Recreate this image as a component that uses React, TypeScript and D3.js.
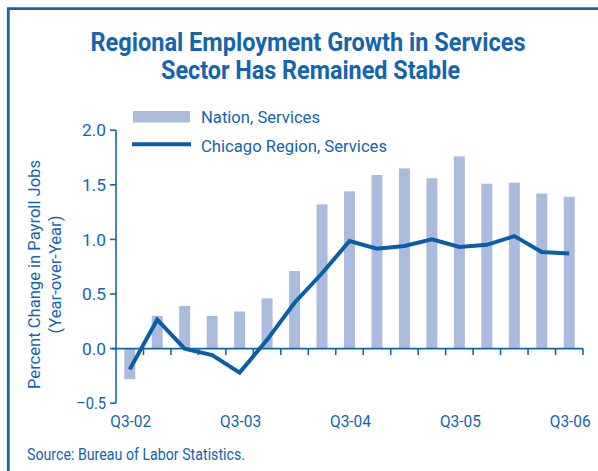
import React, { useEffect, useRef } from "react";
import * as d3 from "d3";

const quarters = [
  "Q3-02", "Q4-02", "Q1-03", "Q2-03", "Q3-03", "Q4-03", "Q1-04", "Q2-04",
  "Q3-04", "Q4-04", "Q1-05", "Q2-05", "Q3-05", "Q4-05", "Q1-06", "Q2-06", "Q3-06",
];
const nationServices = [
  -0.28, 0.30, 0.39, 0.30, 0.34, 0.46, 0.71, 1.32, 1.44, 1.59, 1.65, 1.56, 1.76, 1.51, 1.52, 1.42, 1.39,
];
const chicagoServices = [
  -0.19, 0.265, 0.0, -0.06, -0.22, 0.08, 0.42, 0.69, 0.985, 0.915, 0.94, 1.0, 0.93, 0.95, 1.03, 0.885, 0.87,
];
const xTickLabels = ["Q3-02", "Q3-03", "Q3-04", "Q3-05", "Q3-06"];
const yTicks = [-0.5, 0, 0.5, 1.0, 1.5, 2.0];
const titleLines = ["Regional Employment Growth in Services", "Sector Has Remained Stable"];
const yTitleLines = ["Percent Change in Payroll Jobs", "(Year-over-Year)"];
const legendLabels = ["Nation, Services", "Chicago Region, Services"];
const sourceText = "Source: Bureau of Labor Statistics.";

const W = 598;
const H = 471;
const BLUE = "#1464ae";
const LINE = "#0a5ea8";
const BAR = "#abbbde";
const FONT = "Roboto, 'Liberation Sans', sans-serif";

export default function App() {
  const ref = useRef<SVGSVGElement>(null);

  useEffect(() => {
    const svg = d3.select(ref.current);
    svg.selectAll("*").remove();

    const x0 = 116, x1 = 583;
    const x = d3.scaleBand<string>().domain(quarters).range([x0, x1]).paddingInner(0.6).paddingOuter(0.3);
    const y = d3.scaleLinear().domain([-0.5, 2.0]).range([403.2, 130.2]);
    const step = x.step();
    const cx = (q: string) => (x(q) as number) + x.bandwidth() / 2;

    const txt = (sel: any, size: number) =>
      sel.attr("fill", BLUE).attr("font-family", FONT).attr("font-size", size)
        .attr("lengthAdjust", "spacingAndGlyphs");

    // frame
    svg.append("path")
      .attr("d", `M8.3,${H + 5} L8.3,8.6 L${W + 5},8.6`)
      .attr("fill", "none").attr("stroke", BLUE).attr("stroke-width", 2.8);

    // title
    const tW = [435, 299];
    const tX = [90.5, 161];
    titleLines.forEach((l, i) => {
      txt(svg.append("text"), 25).attr("font-weight", "bold")
        .attr("x", tX[i]).attr("y", 50.5 + i * 28.3).attr("textLength", tW[i]).text(l);
    });

    // bars
    svg.append("g").selectAll("rect").data(quarters).join("rect")
      .attr("x", (d) => x(d) as number)
      .attr("width", x.bandwidth())
      .attr("y", (_, i) => y(Math.max(0, nationServices[i])))
      .attr("height", (_, i) => Math.abs(y(nationServices[i]) - y(0)))
      .attr("fill", BAR);

    // axes
    const ax = svg.append("g").attr("stroke", BLUE).attr("stroke-width", 1.6).attr("fill", "none");
    ax.append("line").attr("x1", x0).attr("x2", x0).attr("y1", y(2.0)).attr("y2", y(-0.5));
    ax.append("line").attr("x1", x0 - 4).attr("x2", x1).attr("y1", y(0)).attr("y2", y(0));
    yTicks.forEach((v) => {
      ax.append("line").attr("x1", x0 - 6).attr("x2", x0).attr("y1", y(v)).attr("y2", y(v));
    });
    d3.range(1, quarters.length + 1).forEach((k) => {
      const xx = x0 + k * step;
      ax.append("line").attr("x1", xx).attr("x2", xx).attr("y1", y(0)).attr("y2", y(0) + 6.5);
    });

    // y tick labels
    yTicks.forEach((d) => {
      txt(svg.append("text"), 16.5)
        .attr("x", 106).attr("y", y(d) + 6.2).attr("text-anchor", "end")
        .attr("textLength", d < 0 ? 30 : 24)
        .text(d < 0 ? "\u2013" + Math.abs(d).toFixed(1) : d.toFixed(1));
    });

    // x tick labels
    xTickLabels.forEach((d) => {
      txt(svg.append("text"), 16.5)
        .attr("x", cx(d) + 1).attr("y", 426.5).attr("text-anchor", "middle")
        .attr("textLength", 41).text(d);
    });

    // line
    const line = d3.line<number>()
      .x((_, i) => cx(quarters[i]))
      .y((d) => y(d));
    svg.append("path").datum(chicagoServices).attr("d", line)
      .attr("fill", "none").attr("stroke", LINE).attr("stroke-width", 4)
      .attr("stroke-linejoin", "miter");

    // y title
    const ytW = [229, 118];
    yTitleLines.forEach((l, i) => {
      txt(svg.append("text"), 16.5)
        .attr("text-anchor", "middle")
        .attr("transform", "translate(0,274.5) rotate(-90)")
        .attr("x", 0).attr("y", 40 + i * 21)
        .attr("textLength", ytW[i]).text(l);
    });

    // legend
    const lg = svg.append("g");
    lg.append("rect").attr("x", 133).attr("y", 111).attr("width", 57).attr("height", 11.5).attr("fill", BAR);
    lg.append("line").attr("x1", 132).attr("x2", 191).attr("y1", 144.3).attr("y2", 144.3)
      .attr("stroke", LINE).attr("stroke-width", 4);
    const lgW = [119, 186];
    legendLabels.forEach((l, i) => {
      txt(lg.append("text"), 17)
        .attr("x", 201).attr("y", 123.3 + i * 28.4).attr("textLength", lgW[i]).text(l);
    });

    // source
    txt(svg.append("text"), 16)
      .attr("x", 27).attr("y", 460).attr("textLength", 218).text(sourceText);
  }, []);

  return (
    <svg ref={ref} width={W} height={H} style={{ position: "absolute", left: 0, top: 0, background: "#fff" }} />
  );
}
